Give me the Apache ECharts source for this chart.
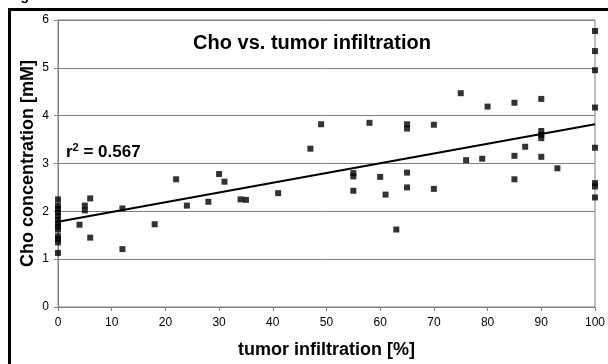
<!DOCTYPE html>
<html>
<head>
<meta charset="utf-8">
<script src="https://cdn.jsdelivr.net/npm/echarts@6/dist/echarts.min.js"></script>
<style>
html,body{margin:0;padding:0;background:#fff;}
#c{width:608px;height:364px;}
</style>
</head>
<body>
<div id="c"></div>
<script>
var infiltration = [0,0,0,0,0,0,0,0,0,0,0,0,0,
  4,5,5,6,6,12,12,18,22,24,28,30,31,34,35,41,47,49,
  55,55,55,58,60,61,63,65,65,65,65,70,70,75,76,79,80,
  85,85,85,87,90,90,90,90,90,93,
  100,100,100,100,100,100,100,100];
var choConc = [2.25,2.12,2.05,1.98,1.90,1.82,1.75,1.68,1.62,1.48,1.42,1.35,1.13,
  1.72,2.12,2.02,2.27,1.45,2.06,1.21,1.73,2.67,2.12,2.20,2.78,2.62,2.25,2.24,2.38,3.31,3.82,
  2.80,2.73,2.43,3.85,2.72,2.35,1.62,3.82,3.73,2.81,2.50,3.81,2.47,4.47,3.07,3.10,4.19,
  4.27,3.16,2.67,3.35,4.35,3.68,3.60,3.53,3.14,2.90,
  5.77,5.35,4.95,4.17,3.33,2.59,2.52,2.29];
var trendX = [0, 100];
var trendY = [1.78, 3.82];
var xTicks = [0,10,20,30,40,50,60,70,80,90,100];
var yTicks = [0,1,2,3,4,5,6];
var chartTitle = 'Cho vs. tumor infiltration';
var rSquared = '0.567';
var xTitle = 'tumor infiltration [%]';
var yTitle = 'Cho concentration [mM]';

var points = infiltration.map(function(x,i){return [x, choConc[i]];});
var trend = trendX.map(function(x,i){return [x, trendY[i]];});
var FONT = '"Liberation Sans", Arial, sans-serif';
var GRAY = '#808080';

var chart = echarts.init(document.getElementById('c'), null, {renderer:'canvas'});
chart.setOption({
  animation:false,
  backgroundColor:'#fff',
  grid:{left:58, top:20, right:11, bottom:57, show:true, borderColor:GRAY, borderWidth:1},
  xAxis:{type:'value', min:xTicks[0], max:xTicks[xTicks.length-1], interval:10,
    name:xTitle, nameLocation:'middle', nameGap:34, nameMoveOverlap:false,
    nameTextStyle:{fontFamily:FONT, fontWeight:'bold', fontSize:18, color:'#000'},
    axisLine:{show:true, onZero:false, lineStyle:{color:GRAY, width:1}},
    axisTick:{show:true, length:4, lineStyle:{color:GRAY}},
    axisLabel:{fontFamily:FONT, fontSize:12, color:'#000', margin:10},
    splitLine:{show:false}},
  yAxis:{type:'value', min:yTicks[0], max:yTicks[yTicks.length-1], interval:1,
    name:yTitle, nameLocation:'middle', nameGap:21, nameMoveOverlap:false,
    nameTextStyle:{fontFamily:FONT, fontWeight:'bold', fontSize:18, color:'#000'},
    axisLine:{show:true, lineStyle:{color:GRAY, width:1}},
    axisTick:{show:true, length:4, lineStyle:{color:GRAY}},
    axisLabel:{fontFamily:FONT, fontSize:12, color:'#000', margin:9},
    splitLine:{show:true, lineStyle:{color:GRAY, width:1}}},
  series:[
    {type:'line', data:trend, symbol:'none', lineStyle:{color:'#000', width:2}, z:3, silent:true},
    {type:'scatter', data:points, symbol:'rect', symbolSize:6, itemStyle:{color:'#000'}, z:4}
  ],
  graphic:[
    {type:'rect', shape:{x:9.5, y:9.5, width:700, height:400}, style:{fill:'none', stroke:'#000', lineWidth:3}, z:10},
    {type:'text', x:8, y:3, style:{text:'Figure 2.', font:'bold 14px ' + FONT, fill:'#000', textVerticalAlign:'bottom'}},
    {type:'text', x:312, y:43, style:{text:chartTitle, font:'bold 20px ' + FONT, fill:'#000', textAlign:'center', textVerticalAlign:'middle'}, z:5},
    {type:'text', x:66, y:152, style:{rich:{b:{font:'bold 17px ' + FONT, fill:'#000'}, s:{font:'bold 11px ' + FONT, fill:'#000', padding:[0,0,9,0]}}, text:'{b|r}{s|2}{b| = ' + rSquared + '}', textVerticalAlign:'middle'}, z:5}
  ]
});
</script>
</body>
</html>
